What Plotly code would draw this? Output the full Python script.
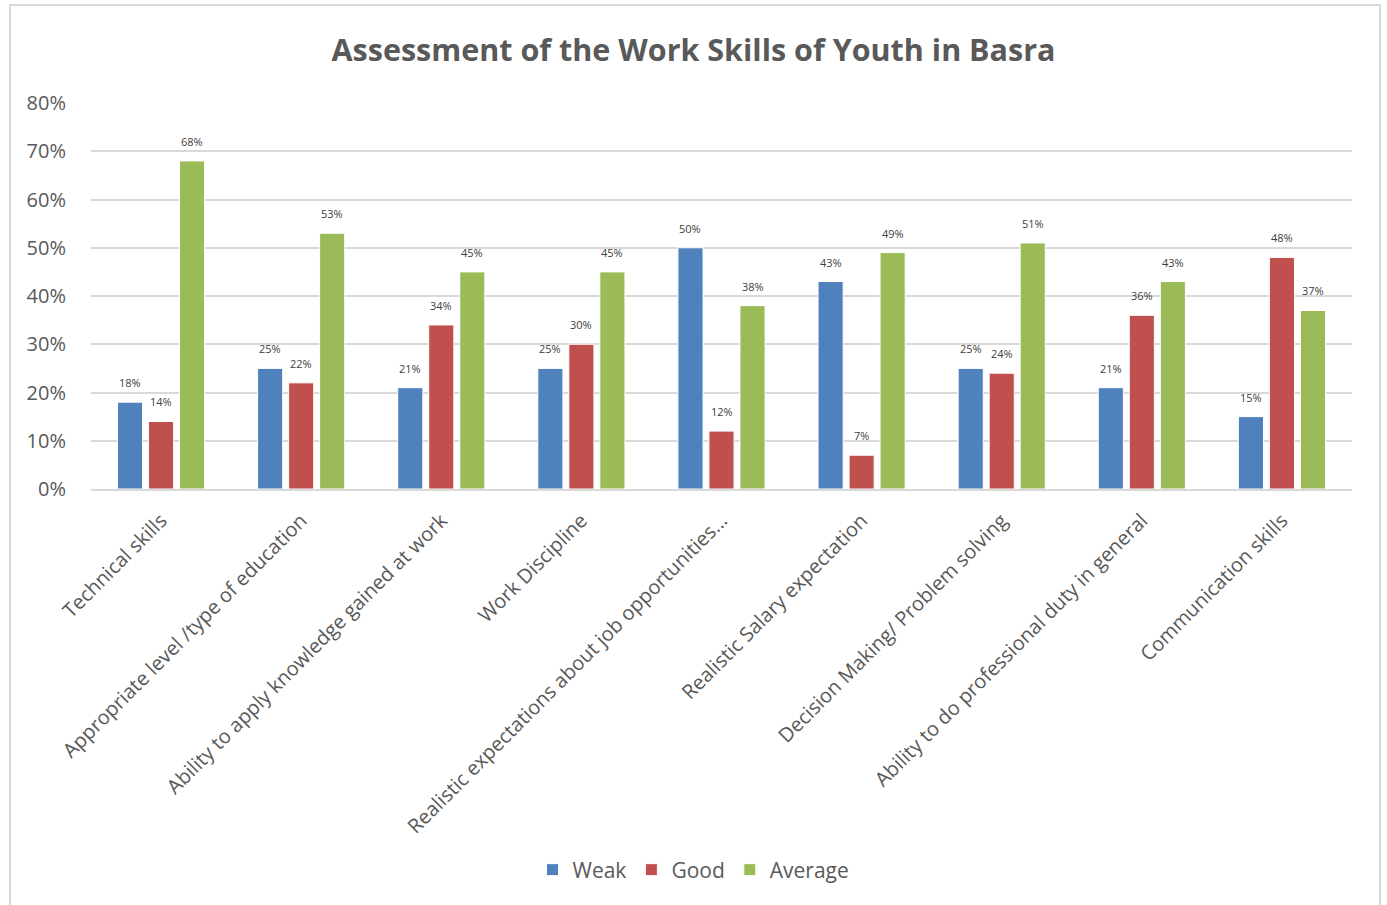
import plotly.graph_objects as go

categories = [
    "Technical skills",
    "Appropriate level /type of education",
    "Ability to apply knowledge gained at work",
    "Work Discipline",
    "Realistic expectations about job opportunities...",
    "Realistic Salary expectation",
    "Decision Making/ Problem solving",
    "Ability to do professional duty in general",
    "Communication skills",
]
weak = [18, 25, 21, 25, 50, 43, 25, 21, 15]
good = [14, 22, 34, 30, 12, 7, 24, 36, 48]
average = [68, 53, 45, 45, 38, 49, 51, 43, 37]

series = [("Weak", weak, "#4f81bd"), ("Good", good, "#c0504d"), ("Average", average, "#9bbb59")]

FONT = "Open Sans"
W, H = 1387, 905
ML, MR, MT, MB = 91, 35, 103, 416

fig = go.Figure()
for name, vals, color in series:
    fig.add_trace(go.Bar(
        name=name, x=categories, y=vals,
        marker=dict(color=color, line=dict(color="white", width=1)),
        hoverinfo="x+y+name",
    ))

# value labels above each bar, shifted to the bar's slot within the group
plot_w = W - ML - MR
slot_px = plot_w / len(categories) * (1 - 0.336) / 3
annotations = []
for i, (name, vals, color) in enumerate(series):
    for cat, v in zip(categories, vals):
        annotations.append(dict(
            x=cat, y=v, xref="x", yref="y", text=f"{v}%",
            showarrow=False, yanchor="bottom", yshift=10,
            xshift=(i - 1) * slot_px,
            font=dict(family=FONT, size=11, color="#404040"),
        ))

fig.update_layout(
    width=W, height=H,
    margin=dict(l=ML, r=MR, t=MT, b=MB),
    paper_bgcolor="white", plot_bgcolor="white",
    barmode="group", bargap=0.336, bargroupgap=0.19,
    title=dict(
        text="<b>Assessment of the Work Skills of Youth in Basra</b>",
        x=0.5, xanchor="center", y=1 - 50 / H, yanchor="middle",
        font=dict(family=FONT, size=30.5, color="#595959"),
    ),
    font=dict(family=FONT, color="#595959"),
    legend=dict(
        orientation="h", x=0.5 - 28 / plot_w, xanchor="center",
        y=-(870 - (H - MB)) / (H - MT - MB), yanchor="middle",
        font=dict(family=FONT, size=21, color="#595959"),
        itemwidth=30, traceorder="normal",
    ),
    annotations=annotations,
    shapes=[dict(
        type="rect", xref="paper", yref="paper",
        x0=(10 - ML) / plot_w, x1=(1380 - ML) / plot_w,
        y0=-(H + 10 - (H - MB)) / (H - MT - MB),
        y1=((H - MB) - 5) / (H - MT - MB),
        line=dict(color="#d9d9d9", width=2), layer="below",
    )],
)

fig.update_xaxes(
    tickangle=-45, tickfont=dict(family=FONT, size=20, color="#595959"),
    showline=True, linecolor="#d9d9d9", linewidth=2,
    showgrid=False, ticks="outside", ticklen=10, tickcolor="rgba(0,0,0,0)",
)
fig.update_yaxes(
    range=[0, 80], dtick=10, ticksuffix="%",
    tickfont=dict(family=FONT, size=20, color="#595959"),
    showgrid=True, gridcolor="#d9d9d9", gridwidth=2,
    zeroline=False, showline=False,
    ticks="outside", ticklen=20, tickcolor="rgba(0,0,0,0)",
)

fig.write_html("out.html")
